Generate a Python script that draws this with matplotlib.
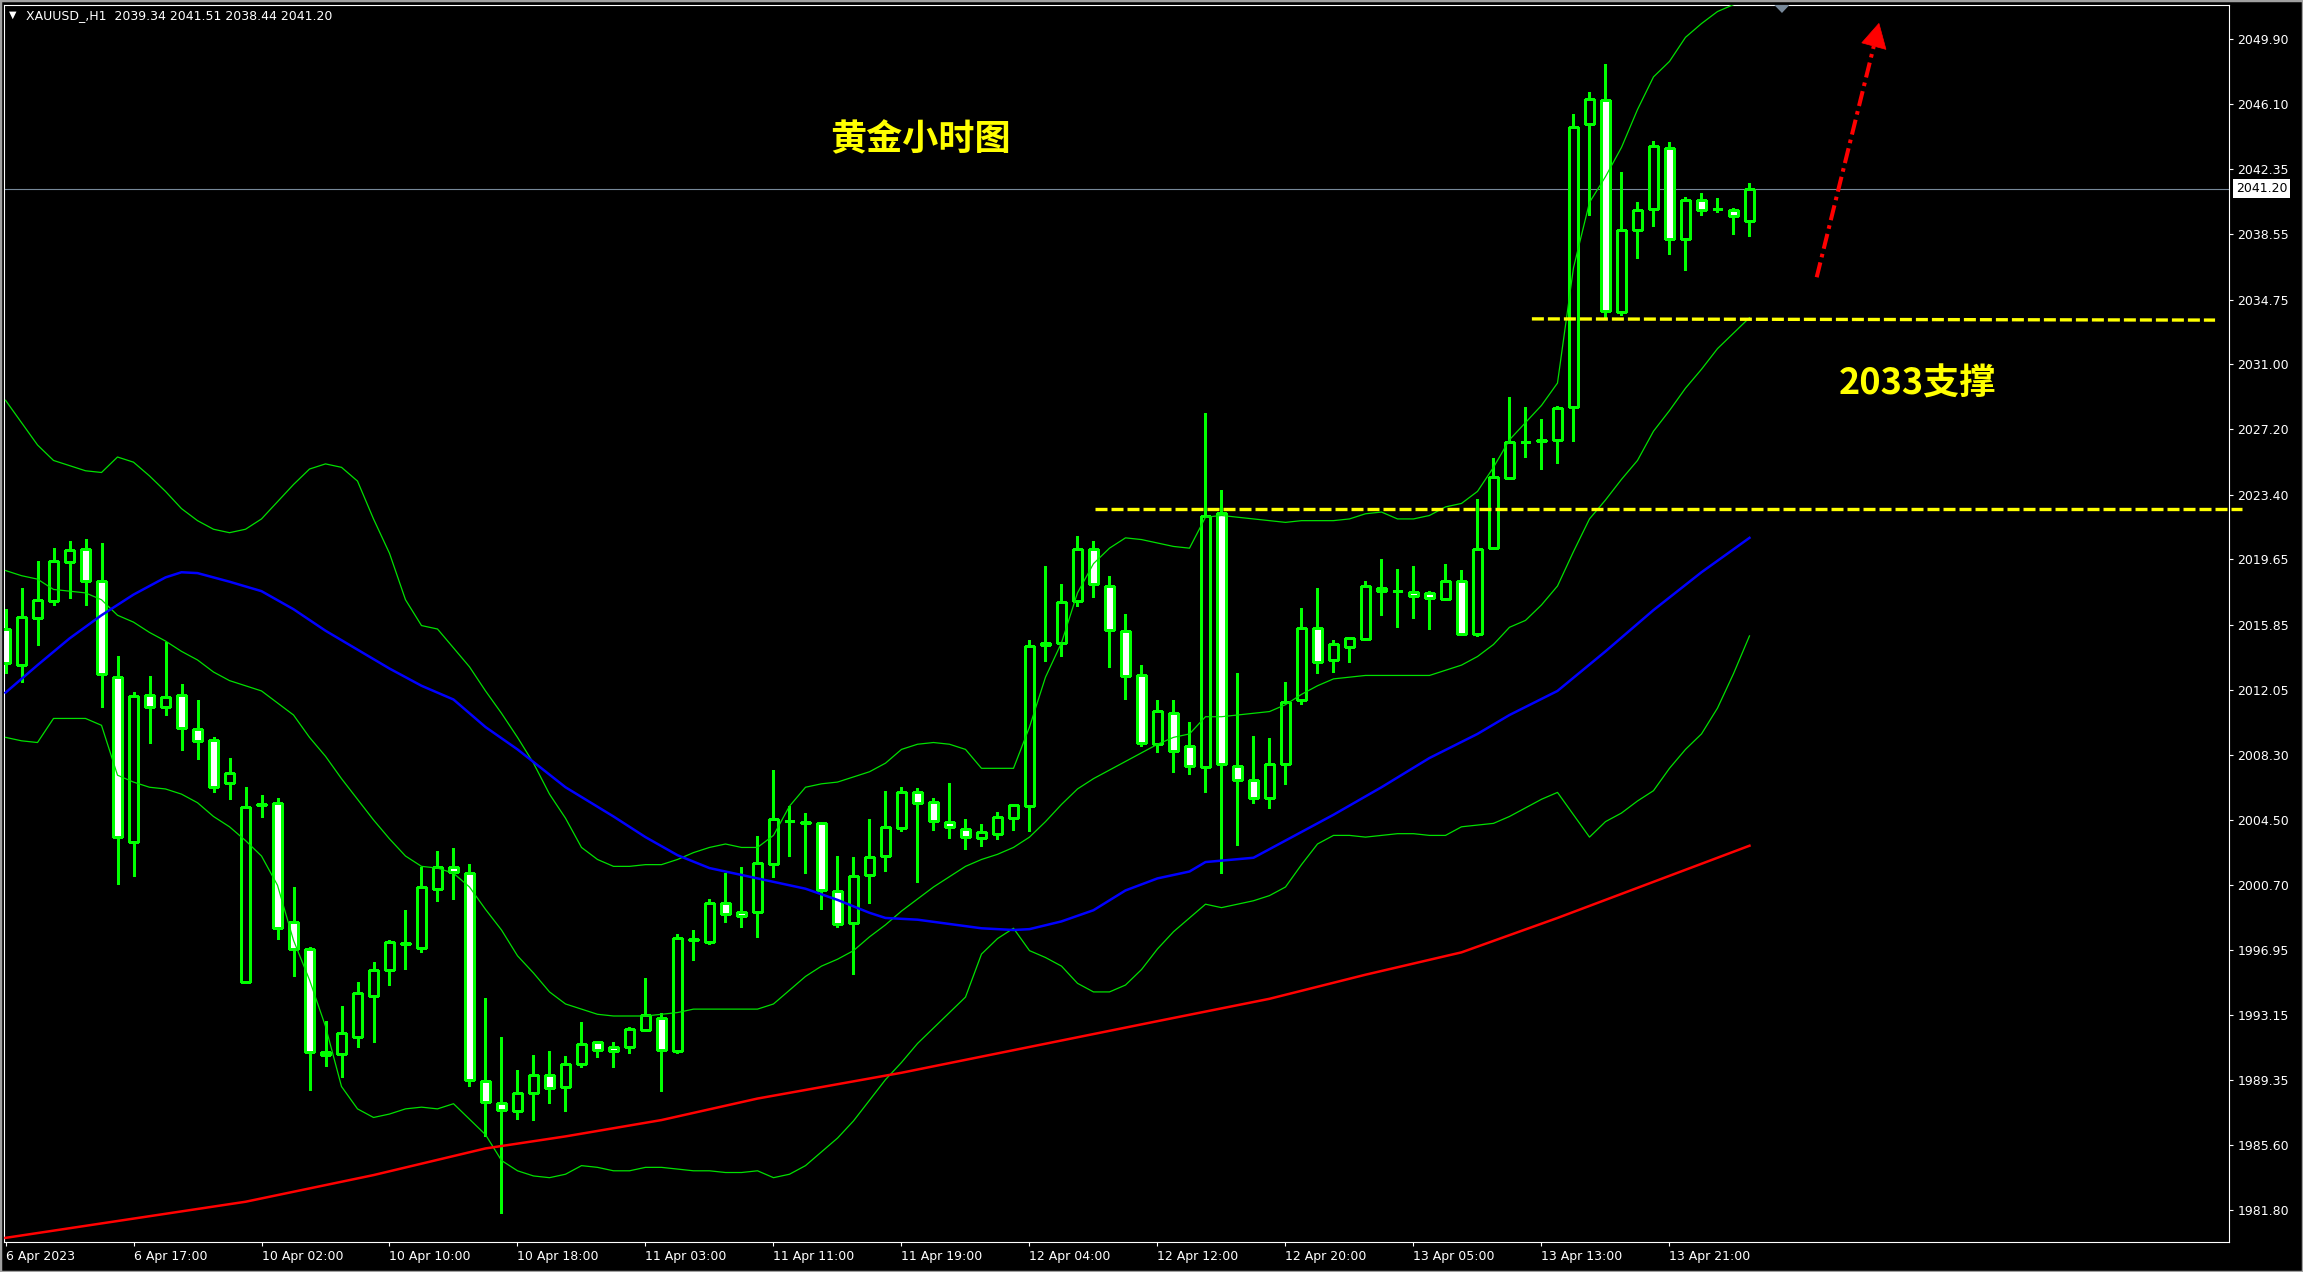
import matplotlib
matplotlib.use('Agg')
import matplotlib.pyplot as plt
from matplotlib.patches import Polygon, Rectangle
import numpy as np

# hourly XAUUSD candles, 6 Apr 09:00 .. 14 Apr 02:00
opens = [2015.58, 2013.52, 2016.26, 2017.21, 2019.47, 2020.23, 2018.37, 2012.79, 2003.20, 2011.74,
         2011.04, 2011.74, 2009.80, 2009.13, 2006.63, 1995.09, 2005.38, 2005.46, 1998.54, 1996.97,
         1991.02, 1990.87, 1991.86, 1994.28, 1995.75, 1997.28, 1997.07, 2000.50, 2001.78, 2001.39,
         1989.30, 1988.02, 1987.55, 1988.60, 1989.65, 1988.95, 1990.29, 1991.61, 1991.31, 1991.31,
         1992.26, 1992.96, 1991.04, 1997.59, 1997.42, 1999.69, 1999.12, 1999.12, 2001.92, 2004.43,
         2004.38, 2004.30, 2000.34, 1998.49, 2001.27, 2002.38, 2004.01, 2006.10, 2005.52, 2004.36,
         2003.99, 2003.43, 2003.66, 2004.59, 2005.29, 2014.80, 2014.77, 2017.21, 2020.27, 2018.08,
         2015.50, 2012.90, 2008.89, 2010.73, 2008.82, 2007.55, 2022.36, 2007.65, 2006.84, 2005.75,
         2007.73, 2011.45, 2015.67, 2013.77, 2014.53, 2015.00, 2018.00, 2017.81, 2017.73, 2017.71,
         2017.32, 2018.37, 2015.29, 2020.29, 2024.40, 2026.47, 2026.53, 2026.57, 2028.50, 2044.99,
         2046.33, 2034.01, 2038.77, 2040.04, 2043.58, 2038.25, 2040.52, 2040.04, 2039.94, 2039.34]
highs = [2016.74, 2017.96, 2019.55, 2020.31, 2020.71, 2020.83, 2020.60, 2014.03, 2011.92, 2012.87,
         2014.86, 2012.40, 2011.47, 2009.30, 2008.10, 2006.41, 2005.95, 2005.75, 2000.58, 1997.13,
         1992.81, 1993.68, 1995.05, 1996.24, 1997.52, 1999.26, 2001.78, 2002.69, 2002.86, 2001.92,
         1994.14, 1991.88, 1989.94, 1990.83, 1991.06, 1990.77, 1992.73, 1991.65, 1991.59, 1992.48,
         1995.31, 1993.25, 1997.86, 1998.08, 1999.88, 2001.43, 2001.76, 2003.58, 2007.40, 2005.33,
         2004.88, 2004.34, 2002.40, 2002.34, 2004.55, 2006.18, 2006.41, 2006.35, 2005.77, 2006.63,
         2004.55, 2004.24, 2004.94, 2005.40, 2014.94, 2019.24, 2018.20, 2021.00, 2020.69, 2018.66,
         2016.45, 2013.49, 2011.45, 2011.45, 2010.19, 2028.15, 2023.68, 2013.02, 2009.38, 2009.24,
         2012.50, 2016.80, 2017.96, 2014.96, 2015.09, 2018.37, 2019.67, 2019.09, 2019.26, 2017.81,
         2019.38, 2019.03, 2023.14, 2025.52, 2029.07, 2028.49, 2027.81, 2028.56, 2045.52, 2046.82,
         2048.45, 2042.15, 2040.42, 2043.97, 2043.89, 2040.71, 2040.95, 2040.66, 2040.07, 2041.51]
lows = [2013.02, 2012.50, 2014.69, 2017.01, 2017.42, 2017.01, 2011.08, 2000.75, 2001.26, 2008.99,
        2010.60, 2008.56, 2008.06, 2006.14, 2005.70, 1995.00, 2004.69, 1997.56, 1995.44, 1988.81,
        1990.21, 1989.57, 1991.31, 1991.61, 1994.90, 1995.83, 1996.84, 1999.78, 1999.90, 1989.05,
        1986.12, 1981.62, 1987.11, 1987.07, 1988.02, 1987.55, 1990.15, 1990.73, 1990.15, 1990.97,
        1992.20, 1988.76, 1990.97, 1996.37, 1997.30, 1998.58, 1998.29, 1997.71, 2001.16, 2002.42,
        2001.43, 1999.30, 1998.25, 1995.52, 1999.65, 2001.55, 2003.84, 2000.91, 2003.89, 2003.43,
        2002.79, 2002.96, 2003.37, 2003.89, 2003.84, 2013.72, 2014.05, 2016.95, 2017.48, 2013.41,
        2011.55, 2008.82, 2008.47, 2007.30, 2007.18, 2006.14, 2001.39, 2003.06, 2005.50, 2005.17,
        2006.60, 2011.22, 2013.06, 2013.12, 2013.70, 2014.95, 2016.41, 2015.73, 2016.26, 2015.58,
        2017.28, 2015.25, 2015.19, 2020.25, 2024.30, 2025.62, 2024.88, 2025.27, 2026.55, 2039.65,
        2033.76, 2033.87, 2037.19, 2039.03, 2037.40, 2036.49, 2039.67, 2039.84, 2038.56, 2038.44]
closes = [2013.64, 2016.28, 2017.26, 2019.53, 2020.17, 2018.37, 2012.96, 2003.49, 2011.68, 2011.04,
          2011.63, 2009.82, 2009.07, 2006.39, 2007.20, 2005.23, 2005.42, 1998.20, 1996.97, 1990.98,
          1990.81, 1992.09, 1994.42, 1995.75, 1997.38, 1997.32, 2000.58, 2001.78, 2001.45, 1989.40,
          1988.08, 1987.61, 1988.60, 1989.65, 1988.89, 1990.29, 1991.45, 1991.12, 1991.04, 1992.32,
          1993.14, 1991.10, 1997.65, 1997.50, 1999.65, 1999.03, 1998.89, 2001.97, 2004.53, 2004.45,
          2004.30, 2000.40, 1998.43, 2001.22, 2002.32, 2004.09, 2006.10, 2005.46, 2004.42, 2004.07,
          2003.49, 2003.78, 2004.65, 2005.35, 2014.63, 2014.65, 2017.15, 2020.23, 2018.20, 2015.52,
          2012.85, 2008.95, 2010.85, 2008.50, 2007.61, 2022.17, 2007.73, 2006.80, 2005.77, 2007.77,
          2011.37, 2015.64, 2013.66, 2014.70, 2015.06, 2018.08, 2017.81, 2017.80, 2017.52, 2017.40,
          2018.37, 2015.29, 2020.23, 2024.42, 2026.45, 2026.49, 2026.57, 2028.43, 2044.80, 2046.39,
          2034.09, 2038.77, 2039.99, 2043.66, 2038.25, 2040.56, 2039.94, 2040.00, 2039.59, 2041.20]

# Bollinger bands, one value per candle
bb_upper = [2028.9, 2027.6, 2026.3, 2025.4, 2025.1, 2024.8, 2024.7, 2025.6, 2025.3, 2024.5,
            2023.6, 2022.6, 2021.9, 2021.4, 2021.2, 2021.4, 2022.0, 2023.0, 2024.0, 2024.9,
            2025.2, 2025.0, 2024.2, 2022.0, 2020.0, 2017.3, 2015.8, 2015.6, 2014.5, 2013.4,
            2012.0, 2010.7, 2009.3, 2007.8, 2006.0, 2004.6, 2002.9, 2002.2, 2001.8, 2001.8,
            2001.9, 2001.9, 2002.2, 2002.6, 2002.9, 2003.1, 2002.9, 2002.9, 2003.6, 2005.3,
            2006.4, 2006.6, 2006.7, 2007.0, 2007.3, 2007.8, 2008.6, 2008.9, 2009.0, 2008.9,
            2008.6, 2007.5, 2007.5, 2007.5, 2009.9, 2012.8, 2014.8, 2017.7, 2019.4, 2020.3,
            2020.9, 2020.8, 2020.6, 2020.4, 2020.3, 2022.1, 2022.2, 2022.1, 2022.0, 2021.9,
            2021.8, 2021.9, 2021.9, 2021.9, 2022.0, 2022.3, 2022.4, 2022.0, 2022.0, 2022.2,
            2022.7, 2022.9, 2023.6, 2025.0, 2026.6, 2027.6, 2028.6, 2029.9, 2036.6, 2040.4,
            2041.9, 2043.6, 2045.8, 2047.7, 2048.6, 2050.0, 2050.8, 2051.5, 2051.9, 2052.3]
bb_middle = [2019.0, 2018.7, 2018.5, 2017.9, 2017.8, 2017.7, 2017.3, 2016.4, 2016.0, 2015.4,
             2014.9, 2014.3, 2013.8, 2013.1, 2012.6, 2012.3, 2012.0, 2011.3, 2010.6, 2009.3,
             2008.2, 2006.9, 2005.7, 2004.5, 2003.4, 2002.4, 2001.8, 2001.7, 2001.4, 2000.6,
             1999.3, 1998.1, 1996.6, 1995.6, 1994.5, 1993.8, 1993.5, 1993.2, 1993.1, 1993.1,
             1993.1, 1993.2, 1993.3, 1993.5, 1993.5, 1993.5, 1993.5, 1993.5, 1993.8, 1994.6,
             1995.4, 1996.0, 1996.4, 1996.9, 1997.7, 1998.4, 1999.2, 1999.9, 2000.6, 2001.2,
             2001.8, 2002.2, 2002.5, 2002.9, 2003.5, 2004.4, 2005.4, 2006.3, 2006.9, 2007.4,
             2007.9, 2008.4, 2008.9, 2009.3, 2009.5, 2010.5, 2010.5, 2010.6, 2010.7, 2010.8,
             2011.2, 2011.8, 2012.3, 2012.7, 2012.8, 2012.9, 2012.9, 2012.9, 2012.9, 2012.9,
             2013.2, 2013.5, 2014.0, 2014.7, 2015.7, 2016.1, 2017.0, 2018.1, 2020.1, 2022.0,
             2023.1, 2024.3, 2025.4, 2027.1, 2028.3, 2029.6, 2030.7, 2031.9, 2032.8, 2033.7]
bb_lower = [2009.3, 2009.1, 2009.0, 2010.4, 2010.4, 2010.4, 2010.0, 2007.1, 2006.7, 2006.4,
            2006.3, 2006.0, 2005.5, 2004.7, 2004.1, 2003.3, 2002.4, 2000.7, 1997.5, 1995.2,
            1992.5, 1989.0, 1987.7, 1987.2, 1987.4, 1987.7, 1987.8, 1987.7, 1988.0, 1987.1,
            1986.2, 1984.7, 1984.1, 1983.8, 1983.7, 1983.9, 1984.4, 1984.3, 1984.1, 1984.1,
            1984.3, 1984.3, 1984.2, 1984.1, 1984.1, 1984.0, 1984.0, 1984.1, 1983.7, 1983.9,
            1984.4, 1985.2, 1986.0, 1987.0, 1988.2, 1989.4, 1990.4, 1991.5, 1992.4, 1993.3,
            1994.2, 1996.7, 1997.6, 1998.2, 1996.9, 1996.5, 1996.0, 1995.0, 1994.5, 1994.5,
            1994.9, 1995.8, 1997.0, 1998.0, 1998.8, 1999.6, 1999.4, 1999.6, 1999.8, 2000.1,
            2000.6, 2001.9, 2003.1, 2003.6, 2003.6, 2003.5, 2003.6, 2003.7, 2003.7, 2003.6,
            2003.6, 2004.1, 2004.2, 2004.3, 2004.7, 2005.2, 2005.7, 2006.1, 2004.8, 2003.5,
            2004.4, 2004.9, 2005.6, 2006.2, 2007.5, 2008.6, 2009.5, 2011.0, 2013.0, 2015.2]

# moving averages, sampled at some candles
ma_blue_idx = [0, 2, 4, 6, 8, 10, 11, 12, 14, 16, 18, 20, 22, 24, 26, 28, 30, 32, 35, 38, 40, 42, 44,
               47, 50, 52, 54, 55, 57, 59, 61, 63, 64, 66, 68, 70, 72, 74, 75, 78, 80, 83, 86, 89,
               92, 94, 97, 100, 103, 106, 109]
ma_blue_val = [2011.9, 2013.5, 2015.05, 2016.4, 2017.6, 2018.6, 2018.9, 2018.85, 2018.35, 2017.8,
               2016.75, 2015.5, 2014.4, 2013.3, 2012.3, 2011.5, 2009.9, 2008.6, 2006.4, 2004.7,
               2003.5, 2002.45, 2001.7, 2001.1, 2000.5, 1999.85, 1999.1, 1998.8, 1998.7, 1998.45,
               1998.2, 1998.1, 1998.15, 1998.6, 1999.25, 2000.4, 2001.1, 2001.5, 2002.05, 2002.3,
               2003.3, 2004.8, 2006.4, 2008.1, 2009.5, 2010.6, 2012.0, 2014.3, 2016.7, 2018.9, 2020.9]
ma_red_idx = [0, 15, 23, 30, 35, 41, 47, 56, 64, 72, 79, 85, 91, 97, 103, 109]
ma_red_val = [1980.2, 1982.3, 1983.85, 1985.4, 1986.1, 1987.05, 1988.3, 1989.8, 1991.3, 1992.8,
              1994.1, 1995.5, 1996.8, 1998.8, 2000.9, 2003.0]

support_2033 = 2033.6
support_2023 = 2022.6
bid = 2041.20

xtick_idx = [0, 8, 16, 24, 32, 40, 48, 56, 64, 72, 80, 88, 96, 104]
xtick_labels = ['6 Apr 2023', '6 Apr 17:00', '10 Apr 02:00', '10 Apr 10:00', '10 Apr 18:00',
                '11 Apr 03:00', '11 Apr 11:00', '11 Apr 19:00', '12 Apr 04:00', '12 Apr 12:00',
                '12 Apr 20:00', '13 Apr 05:00', '13 Apr 13:00', '13 Apr 21:00']
yticks = [1981.80, 1985.60, 1989.35, 1993.15, 1996.95, 2000.70, 2004.50, 2008.30, 2012.05, 2015.85,
          2019.65, 2023.40, 2027.20, 2031.00, 2034.75, 2038.55, 2042.35, 2046.10, 2049.90]

W, H = 2303, 1272
fig = plt.figure(figsize=(W / 100, H / 100), dpi=100, facecolor='black')
ax = fig.add_axes([4 / W, 1 - 1242 / H, (2229 - 4) / W, (1242 - 5) / H])
ax.set_facecolor('black')

o = np.array(opens); h = np.array(highs); l = np.array(lows); c = np.array(closes)
x = np.arange(len(o))
green = '#00ff00'

ax.vlines(x, l, h, color=green, lw=0.8, zorder=3, antialiased=False)
face = np.where(c > o, 'black', 'white')
ax.bar(x, np.abs(c - o), bottom=np.minimum(o, c), width=0.6, color=face,
       edgecolor=green, linewidth=0.8, zorder=4, antialiased=False)

for band in (bb_upper, bb_middle, bb_lower):
    ax.plot(x, band, color='#00e000', lw=0.9, zorder=5)
ax.plot(ma_blue_idx, ma_blue_val, color='#0000ff', lw=1.8, zorder=5)
ax.plot(ma_red_idx, ma_red_val, color='#ff0000', lw=1.8, zorder=5)

ax.axhline(bid, color='#778899', lw=0.8, zorder=2)

dash = (0, (3.6, 1.2))
ax.plot([95.4, 138.1], [support_2033 + 0.03, support_2033 - 0.04], color='#ffff00', lw=2.4,
        linestyle=dash, zorder=7)
ax.plot([68.1, 139.8], [support_2023, support_2023], color='#ffff00', lw=2.4,
        linestyle=dash, zorder=7, clip_on=False)

# red dash-dot arrow
ax.plot([113.2, 116.77], [2036.05, 2049.49], color='#ff0000', lw=2.9,
        linestyle=(0, (3.8, 1.3, 0.9, 1.3)), solid_capstyle='butt', dash_capstyle='butt', zorder=8)
ax.add_patch(Polygon([[117.09, 2050.81], [116.02, 2049.68], [117.53, 2049.30]], closed=True,
                     facecolor='#ff0000', edgecolor='#ff0000', lw=0.5, zorder=8))

cjk = ['Noto Sans CJK SC', 'DejaVu Sans']
ax.text(57.2, 2044.03, '黄金小时图', color='#ffff00', fontsize=26, fontweight='bold',
        family=cjk, ha='center', va='center', zorder=9)
ax.text(119.5, 2029.84, '2033支撑', color='#ffff00', fontsize=26, fontweight='bold',
        family=cjk, ha='center', va='center', zorder=9)

# chart shift marker
ax.add_patch(Polygon([[110.55, 1.0], [111.5, 1.0], [111.03, 1 - 8 / 1237]], closed=True,
                     transform=ax.get_xaxis_transform(), facecolor='#778899',
                     edgecolor='none', clip_on=False, zorder=9))

ax.set_xlim(-0.094, 138.97)
ax.set_ylim(1979.96, 2051.88)

ax.yaxis.tick_right()
ax.set_yticks(yticks)
ax.set_yticklabels([f'{v:.2f}' for v in yticks])
ax.set_xticks(xtick_idx)
ax.set_xticklabels(xtick_labels)
for lab in ax.get_xticklabels():
    lab.set_ha('left')
ax.tick_params(axis='both', colors='white', labelcolor='white', labelsize=9,
               length=3, width=0.8, direction='out')
ax.tick_params(axis='y', pad=3)
ax.tick_params(axis='x', pad=3)
for s in ax.spines.values():
    s.set_color('white')
    s.set_linewidth(0.8)

# last price box on the price scale
ax.text(1.0 + 7 / 2225, bid, f'{bid:.2f}', transform=ax.get_yaxis_transform(), color='black',
        fontsize=9, ha='left', va='center', zorder=10, clip_on=False,
        bbox=dict(boxstyle='square,pad=0.22', facecolor='white', edgecolor='none'))

fig.text(9 / W, 1 - 15 / H, '▼', color='white', fontsize=7, va='center', ha='left')
fig.text(26 / W, 1 - 16 / H, 'XAUUSD_,H1  2039.34 2041.51 2038.44 2041.20', color='white',
         fontsize=9, va='center', ha='left')

fig.patches.append(Rectangle((0, 0), 1, 1, transform=fig.transFigure, fill=False,
                             edgecolor='#a0a0a0', lw=2.5))

fig.savefig('out.png', dpi=100, facecolor='black')
